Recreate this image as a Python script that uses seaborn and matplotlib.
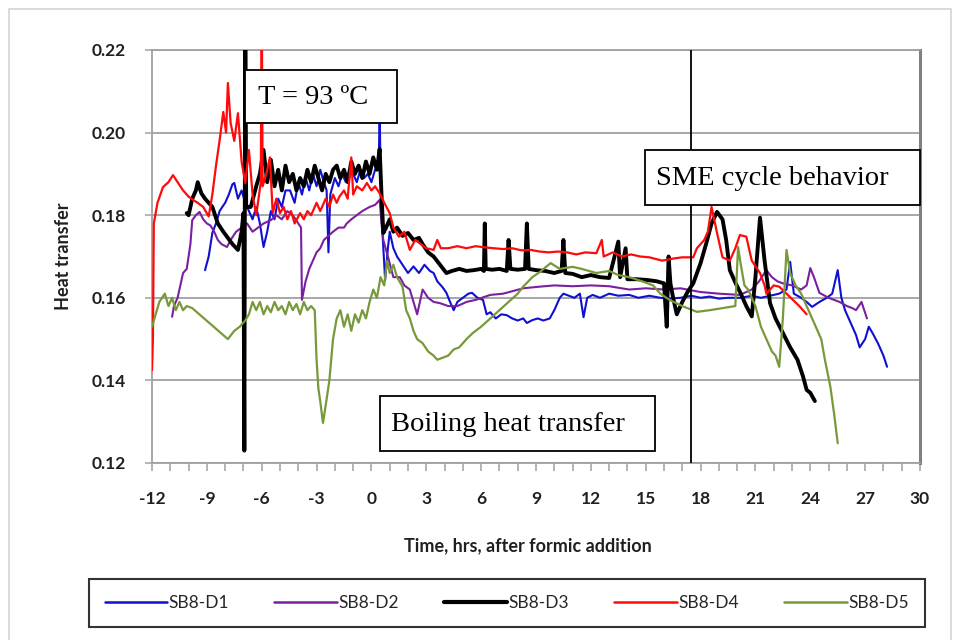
import numpy as np
import pandas as pd
import matplotlib
matplotlib.use("Agg")
import matplotlib.pyplot as plt
from matplotlib.lines import Line2D
from matplotlib.patches import Rectangle
import seaborn as sns

# ---------------- data ----------------
series_names = ["SB8-D1", "SB8-D2", "SB8-D3", "SB8-D4", "SB8-D5"]
series_colors = ["#1010d0", "#7a1fa0", "#000000", "#ff0a0a", "#77993a"]
x_ticks = [-12, -9, -6, -3, 0, 3, 6, 9, 12, 15, 18, 21, 24, 27, 30]
y_ticks = [0.12, 0.14, 0.16, 0.18, 0.20, 0.22]

d1_x = [-9.1, -8.9, -8.7, -8.5, -8.3, -8.2, -8.0, -7.8, -7.6, -7.5, -7.3, -7.1, -6.9, -6.7, -6.5, -6.3, -6.1, -5.9, -5.7, -5.5,
        -5.3, -5.1, -4.9, -4.7, -4.45, -4.2, -4.0, -3.8, -3.6, -3.4, -3.2, -3.0, -2.8, -2.6, -2.45, -2.35, -2.25, -2.0, -1.8, -1.6,
        -1.4, -1.2, -1.0, -0.8, -0.6, -0.4, -0.2, 0.0, 0.2, 0.4, 0.45, 0.5, 0.6, 0.75, 0.9, 1.0, 1.2, 1.4, 1.7, 2.0,
        2.3, 2.6, 2.9, 3.2, 3.4, 3.6, 3.9, 4.1, 4.3, 4.5, 4.7, 5.0, 5.3, 5.5, 5.8, 6.1, 6.3, 6.5, 6.8, 7.1,
        7.4, 7.7, 8.0, 8.3, 8.5, 8.8, 9.1, 9.4, 9.75, 10.0, 10.3, 10.5, 10.8, 11.1, 11.4, 11.6, 11.8, 12.1, 12.5, 13.0,
        13.5, 14.1, 14.6, 15.2, 15.8, 16.3, 16.9, 17.5, 18.0, 18.5, 19.0, 19.5, 20.2, 20.8, 21.3, 21.8, 22.3, 22.7, 22.9, 23.1,
        23.5, 23.8, 24.1, 24.5, 24.9, 25.2, 25.5, 25.7, 25.9, 26.2, 26.5, 26.7, 27.0, 27.2, 27.4, 27.7, 28.0, 28.2]
d1_y = [0.1667, 0.170, 0.1757, 0.178, 0.181, 0.1817, 0.183, 0.185, 0.1875, 0.1878, 0.184, 0.186, 0.183, 0.181, 0.179, 0.182, 0.178, 0.1723, 0.176, 0.181,
        0.179, 0.184, 0.182, 0.186, 0.186, 0.183, 0.188, 0.185, 0.189, 0.186, 0.190, 0.187, 0.191, 0.188, 0.186, 0.171, 0.185, 0.189, 0.187, 0.190,
        0.188, 0.191, 0.190, 0.188, 0.191, 0.189, 0.190, 0.188, 0.191, 0.192, 0.206, 0.190, 0.176, 0.1643, 0.172, 0.176, 0.172, 0.170, 0.168, 0.166,
        0.1676, 0.166, 0.168, 0.1665, 0.166, 0.164, 0.1625, 0.1612, 0.159, 0.157, 0.159, 0.160, 0.161, 0.1612, 0.160, 0.1595, 0.156, 0.1565, 0.155, 0.156,
        0.1558, 0.155, 0.1545, 0.155, 0.1539, 0.1546, 0.155, 0.1545, 0.155, 0.157, 0.160, 0.161, 0.1605, 0.160, 0.161, 0.1553, 0.160, 0.1607, 0.160, 0.161,
        0.1605, 0.1607, 0.160, 0.1605, 0.160, 0.1598, 0.160, 0.1605, 0.160, 0.1603, 0.1598, 0.160, 0.160, 0.1605, 0.160, 0.1605, 0.161, 0.162, 0.1687, 0.161,
        0.160, 0.159, 0.1578, 0.159, 0.160, 0.161, 0.1667, 0.160, 0.157, 0.154, 0.151, 0.148, 0.150, 0.153, 0.1515, 0.149, 0.146, 0.1433]

d2_x = [-10.9, -10.8, -10.6, -10.5, -10.3, -10.1, -9.9, -9.8, -9.6, -9.4, -9.2, -9.0, -8.8, -8.6, -8.4, -8.2, -7.9, -7.7, -7.4, -7.1,
        -6.8, -6.5, -6.2, -5.9, -5.5, -5.2, -4.9, -4.6, -4.3, -4.0, -3.85, -3.8, -3.6, -3.4, -3.2, -3.0, -2.8, -2.6, -2.4, -2.1,
        -1.8, -1.5, -1.35, -1.1, -0.8, -0.5, -0.1, 0.2, 0.45, 0.55, 0.65, 0.9, 1.2, 1.55, 1.8, 2.1, 2.3, 2.5, 2.7, 2.8,
        3.1, 3.4, 3.75, 4.2, 4.7, 5.2, 5.7, 6.5, 7.2, 8.3, 9.2, 10.0, 11.0, 12.0, 13.0, 14.1, 15.0, 16.0, 16.9, 18.0,
        19.0, 20.15, 20.8, 21.2, 21.6, 21.9, 22.2, 22.5, 23.0, 23.5, 23.8, 24.0, 24.2, 24.5, 25.0, 25.6, 26.0, 26.3, 26.5, 26.8, 27.1]
d2_y = [0.1554, 0.158, 0.160, 0.162, 0.166, 0.167, 0.173, 0.1788, 0.180, 0.1808, 0.179, 0.178, 0.1775, 0.176, 0.174, 0.173, 0.1723, 0.174, 0.176, 0.177,
        0.178, 0.176, 0.177, 0.178, 0.1788, 0.180, 0.179, 0.181, 0.180, 0.178, 0.177, 0.1595, 0.164, 0.167, 0.169, 0.171, 0.172, 0.174, 0.1748, 0.176,
        0.177, 0.177, 0.178, 0.179, 0.180, 0.181, 0.182, 0.1825, 0.1837, 0.178, 0.174, 0.170, 0.165, 0.165, 0.163, 0.162, 0.159, 0.156, 0.160, 0.162,
        0.160, 0.159, 0.1587, 0.158, 0.158, 0.159, 0.1595, 0.1607, 0.161, 0.1623, 0.1627, 0.163, 0.1628, 0.163, 0.1628, 0.162, 0.1623, 0.162, 0.1623, 0.1614,
        0.161, 0.1607, 0.162, 0.164, 0.1667, 0.165, 0.164, 0.1635, 0.163, 0.162, 0.163, 0.1672, 0.165, 0.1612, 0.160, 0.159, 0.158, 0.1575, 0.157, 0.159, 0.155]

d3_x = [-10.1, -10.0, -9.8, -9.6, -9.5, -9.3, -9.1, -8.9, -8.7, -8.4, -8.1, -7.9, -7.6, -7.3, -7.1, -7.0, -6.95, -6.9, -6.85, -6.6,
        -6.3, -6.1, -5.9, -5.7, -5.5, -5.3, -5.1, -4.9, -4.7, -4.5, -4.3, -4.1, -3.9, -3.7, -3.5, -3.3, -3.1, -2.9, -2.7, -2.5,
        -2.3, -2.1, -1.9, -1.7, -1.5, -1.3, -1.1, -0.9, -0.7, -0.5, -0.3, -0.1, 0.1, 0.3, 0.45, 0.55, 0.65, 0.8, 1.0, 1.2,
        1.4, 1.7, 2.0, 2.3, 2.6, 2.8, 3.1, 3.4, 3.75, 4.1, 4.4, 4.8, 5.2, 5.6, 6.0, 6.15, 6.2, 6.25, 6.6, 7.0,
        7.4, 7.5, 7.6, 8.0, 8.4, 8.5, 8.6, 9.0, 9.5, 10.0, 10.4, 10.5, 10.6, 11.0, 11.5, 12.0, 12.5, 13.0, 13.5, 13.6,
        13.9, 14.0, 14.5, 15.1, 15.6, 16.0, 16.15, 16.25, 16.35, 16.5, 16.7, 17.0, 17.3, 17.6, 18.0, 18.3, 18.6, 18.9, 19.2, 19.4,
        19.6, 19.9, 20.2, 20.5, 20.8, 21.0, 21.25, 21.5, 21.8, 22.1, 22.5, 22.9, 23.3, 23.6, 23.8, 24.0, 24.25]
d3_y = [0.1805, 0.180, 0.184, 0.186, 0.188, 0.1853, 0.184, 0.183, 0.182, 0.178, 0.176, 0.1748, 0.173, 0.1716, 0.176, 0.1805, 0.123, 0.235, 0.182, 0.182,
        0.187, 0.190, 0.1958, 0.188, 0.1934, 0.187, 0.191, 0.186, 0.192, 0.188, 0.190, 0.186, 0.189, 0.187, 0.191, 0.188, 0.192, 0.189, 0.186, 0.190,
        0.188, 0.191, 0.192, 0.189, 0.191, 0.188, 0.193, 0.190, 0.192, 0.189, 0.193, 0.190, 0.194, 0.191, 0.196, 0.185, 0.1757, 0.177, 0.179, 0.176,
        0.177, 0.175, 0.1757, 0.174, 0.1745, 0.173, 0.171, 0.170, 0.168, 0.166, 0.1665, 0.167, 0.1665, 0.1667, 0.167, 0.1665, 0.178, 0.167, 0.1668, 0.167,
        0.1665, 0.174, 0.167, 0.1668, 0.167, 0.178, 0.167, 0.1667, 0.1665, 0.166, 0.1665, 0.174, 0.166, 0.1658, 0.165, 0.1655, 0.165, 0.1648, 0.1736, 0.165,
        0.172, 0.1645, 0.1645, 0.1643, 0.164, 0.1635, 0.153, 0.170, 0.1635, 0.160, 0.156, 0.159, 0.1615, 0.1635, 0.1684, 0.173, 0.178, 0.1808, 0.179, 0.174,
        0.1667, 0.1637, 0.161, 0.158, 0.1555, 0.165, 0.1794, 0.169, 0.1587, 0.155, 0.1515, 0.148, 0.145, 0.141, 0.1377, 0.137, 0.135]

d4_x = [-12.0, -11.95, -11.9, -11.7, -11.4, -11.1, -10.85, -10.6, -10.3, -10.0, -9.75, -9.5, -9.2, -8.9, -8.7, -8.5, -8.3, -8.1, -7.95, -7.85,
        -7.7, -7.5, -7.3, -7.1, -6.9, -6.7, -6.5, -6.3, -6.05, -6.0, -5.95, -5.75, -5.55, -5.4, -5.2, -5.0, -4.8, -4.6, -4.4, -4.2,
        -3.9, -3.7, -3.5, -3.3, -3.0, -2.8, -2.5, -2.3, -2.1, -1.9, -1.75, -1.5, -1.3, -1.1, -1.0, -0.8, -0.5, -0.25, 0.0, 0.2,
        0.45, 0.7, 1.0, 1.2, 1.5, 1.8, 2.1, 2.4, 2.7, 3.0, 3.4, 3.6, 3.8, 4.2, 4.7, 5.2, 5.7, 6.2, 6.7, 7.2,
        7.7, 8.2, 8.7, 9.2, 9.7, 10.2, 10.7, 11.2, 11.7, 12.3, 12.6, 12.7, 13.2, 13.7, 14.2, 14.7, 15.2, 15.9, 16.5, 17.0,
        17.6, 17.8, 18.2, 18.4, 18.6, 18.9, 19.2, 19.6, 19.9, 20.15, 20.5, 20.8, 21.25, 21.5, 21.6, 22.0, 22.3, 22.7, 23.05, 23.4, 23.8]
d4_y = [0.1425, 0.150, 0.178, 0.183, 0.1868, 0.188, 0.1897, 0.188, 0.186, 0.1845, 0.1837, 0.183, 0.182, 0.1797, 0.185, 0.192, 0.1982, 0.205, 0.200, 0.212,
        0.2023, 0.198, 0.2047, 0.193, 0.1878, 0.1958, 0.185, 0.180, 0.188, 0.235, 0.187, 0.190, 0.194, 0.1805, 0.184, 0.1805, 0.182, 0.179, 0.181, 0.178,
        0.1805, 0.179, 0.181, 0.180, 0.183, 0.181, 0.184, 0.182, 0.185, 0.183, 0.1845, 0.186, 0.184, 0.194, 0.185, 0.187, 0.186, 0.1878, 0.186, 0.187,
        0.1853, 0.183, 0.1805, 0.177, 0.1748, 0.176, 0.1716, 0.174, 0.173, 0.172, 0.1716, 0.174, 0.172, 0.172, 0.1725, 0.172, 0.1725, 0.1722, 0.172, 0.1718,
        0.172, 0.1715, 0.1716, 0.1712, 0.171, 0.1712, 0.171, 0.1705, 0.171, 0.1708, 0.174, 0.170, 0.171, 0.170, 0.1705, 0.170, 0.1698, 0.169, 0.1695, 0.1698,
        0.1698, 0.172, 0.174, 0.176, 0.182, 0.1757, 0.1698, 0.169, 0.172, 0.1752, 0.1748, 0.169, 0.166, 0.163, 0.161, 0.163, 0.1627, 0.161, 0.1595, 0.158, 0.156]

d5_x = [-12.0, -11.8, -11.6, -11.3, -11.1, -10.9, -10.7, -10.5, -10.3, -10.1, -9.8, -7.85, -7.5, -7.2, -6.9, -6.7, -6.5, -6.3, -6.1, -5.9,
        -5.7, -5.5, -5.3, -5.1, -4.9, -4.7, -4.5, -4.3, -4.1, -3.9, -3.7, -3.5, -3.3, -3.1, -3.0, -2.9, -2.8, -2.65, -2.5, -2.3,
        -2.1, -1.9, -1.7, -1.5, -1.3, -1.1, -0.9, -0.7, -0.5, -0.3, -0.1, 0.1, 0.3, 0.5, 0.7, 0.85, 1.0, 1.2, 1.4, 1.7,
        1.9, 2.1, 2.3, 2.5, 2.8, 3.1, 3.4, 3.6, 3.9, 4.2, 4.5, 4.8, 5.2, 5.55, 6.0, 6.5, 7.0, 7.5, 8.0, 8.3,
        8.8, 9.2, 9.8, 10.3, 11.0, 11.5, 12.3, 13.0, 13.5, 14.1, 14.8, 15.4, 15.8, 16.3, 17.0, 17.8, 18.5, 19.2, 19.9, 20.05,
        20.2, 20.4, 20.6, 20.8, 21.0, 21.3, 21.6, 21.9, 22.1, 22.3, 22.5, 22.7, 22.9, 23.2, 23.5, 23.8, 24.1, 24.4, 24.6, 24.8,
        25.1, 25.3, 25.5]
d5_y = [0.153, 0.156, 0.159, 0.161, 0.158, 0.160, 0.157, 0.159, 0.157, 0.158, 0.1575, 0.150, 0.152, 0.153, 0.1545, 0.156, 0.159, 0.157, 0.159, 0.156,
        0.158, 0.1565, 0.159, 0.157, 0.158, 0.156, 0.159, 0.157, 0.1585, 0.156, 0.159, 0.157, 0.158, 0.157, 0.145, 0.138, 0.135, 0.1297, 0.134, 0.140,
        0.150, 0.155, 0.157, 0.153, 0.156, 0.152, 0.156, 0.154, 0.157, 0.155, 0.159, 0.162, 0.160, 0.165, 0.163, 0.169, 0.166, 0.168, 0.165, 0.1627,
        0.157, 0.155, 0.152, 0.150, 0.149, 0.147, 0.146, 0.145, 0.1455, 0.146, 0.1475, 0.148, 0.150, 0.1515, 0.153, 0.155, 0.157, 0.159, 0.161, 0.1627,
        0.165, 0.1662, 0.1684, 0.167, 0.1675, 0.167, 0.166, 0.1665, 0.1655, 0.165, 0.164, 0.163, 0.161, 0.1595, 0.158, 0.1566, 0.157, 0.1575, 0.158, 0.1723,
        0.168, 0.163, 0.162, 0.160, 0.158, 0.153, 0.150, 0.147, 0.146, 0.1433, 0.155, 0.1716, 0.166, 0.163, 0.161, 0.158, 0.155, 0.152, 0.150, 0.145,
        0.1384, 0.132, 0.1248]

series_x = [d1_x, d2_x, d3_x, d4_x, d5_x]
series_y = [d1_y, d2_y, d3_y, d4_y, d5_y]
line_widths = [1.5, 1.5, 2.8, 1.6, 1.6]

# ---------------- figure ----------------
sns.set_style("white")
plt.rcParams['font.family'] = ['Lato', 'DejaVu Sans']

fig = plt.figure(figsize=(9.6, 6.4), dpi=100)
fig.patches.append(Rectangle((9 / 960, -0.01), 942 / 960, 1 - 9 / 640 + 0.01, transform=fig.transFigure,
                             fill=False, edgecolor="#d4d4d4", linewidth=1.2))
ax = fig.add_axes([152 / 960, 1 - 463 / 640, 768 / 960, 413 / 640])

frames = []
for name, xs, ys in zip(series_names, series_x, series_y):
    frames.append(pd.DataFrame({"time": xs, "heat": ys, "series": name}))
df = pd.concat(frames, ignore_index=True)

order_draw = [4, 1, 0, 3, 2]
for i in order_draw:
    sub = df[df["series"] == series_names[i]]
    sns.lineplot(data=sub, x="time", y="heat", ax=ax, color=series_colors[i], linewidth=line_widths[i],
                 sort=False, estimator=None, legend=False, zorder=3 + i * 0.1)

ax.set_xlim(-12, 30)
ax.set_ylim(0.12, 0.22)
ax.set_xticks(x_ticks)
ax.set_xticks(np.arange(-12, 31, 1), minor=True)
ax.set_yticks(y_ticks)
ax.set_xticklabels([str(t) for t in x_ticks])
ax.set_yticklabels([f"{t:.2f}" for t in y_ticks])
ax.yaxis.grid(True, color="#a0a0a0", linewidth=1.3, zorder=0)
ax.xaxis.grid(False)
ax.set_axisbelow(True)

for s in ["left", "bottom", "top"]:
    ax.spines[s].set_color("#a0a0a0")
    ax.spines[s].set_linewidth(1.3)
ax.spines["right"].set_color("#808080")
ax.spines["right"].set_linewidth(2.2)

ax.tick_params(axis="x", which="both", bottom=True, direction="out", length=6, width=1.1, color="#a0a0a0")
ax.tick_params(axis="x", which="major", labelsize=12.5, pad=14, labelcolor="#202020")
ax.tick_params(axis="y", which="major", left=True, direction="out", length=5, width=1.1, color="#a0a0a0",
               labelsize=12.5, pad=14, labelcolor="#202020")
for lab in ax.get_xticklabels() + ax.get_yticklabels():
    lab.set_fontweight("bold")

ax.set_xlabel("Time, hrs, after formic addition", fontsize=13, fontweight="bold", color="#202020")
ax.set_ylabel("Heat transfer", fontsize=13, fontweight="bold", labelpad=14, color="#202020")
ax.xaxis.set_label_coords(0.49, -0.18)

# vertical marker line
ax.axvline(17.5, color="black", linewidth=1.3, zorder=6)

# annotation boxes
serif = ["Liberation Serif", "DejaVu Serif"]
boxes = [
    ((0.121, 0.823, 0.198, 0.128), (0.138, 0.886), "T = 93 ºC"),
    ((0.642, 0.625, 0.358, 0.133), (0.656, 0.690), "SME cycle behavior"),
    ((0.297, 0.029, 0.358, 0.133), (0.311, 0.094), "Boiling heat transfer"),
]
for (bx, by, bw, bh), (tx, ty), txt in boxes:
    ax.add_patch(Rectangle((bx, by), bw, bh, transform=ax.transAxes, facecolor="white",
                           edgecolor="black", linewidth=1.3, zorder=10, clip_on=False))
    ax.text(tx, ty, txt, transform=ax.transAxes, ha="left", va="center", fontsize=20.5,
            family=serif, color="black", zorder=11)

# legend
handles = [Line2D([0], [0], color=c, linewidth=(3 if n == "SB8-D3" else 1.8)) for n, c in zip(series_names, series_colors)]
leg = fig.legend(handles, series_names, loc="center", ncol=5, bbox_to_anchor=(0.528, 0.058),
                 frameon=True, fancybox=False, edgecolor="black", fontsize=12.5,
                 handlelength=3.6, handletextpad=0.1, columnspacing=2.6, borderpad=0.9)
leg.get_frame().set_linewidth(1.5)

fig.savefig("out.png", dpi=100, facecolor="white")
